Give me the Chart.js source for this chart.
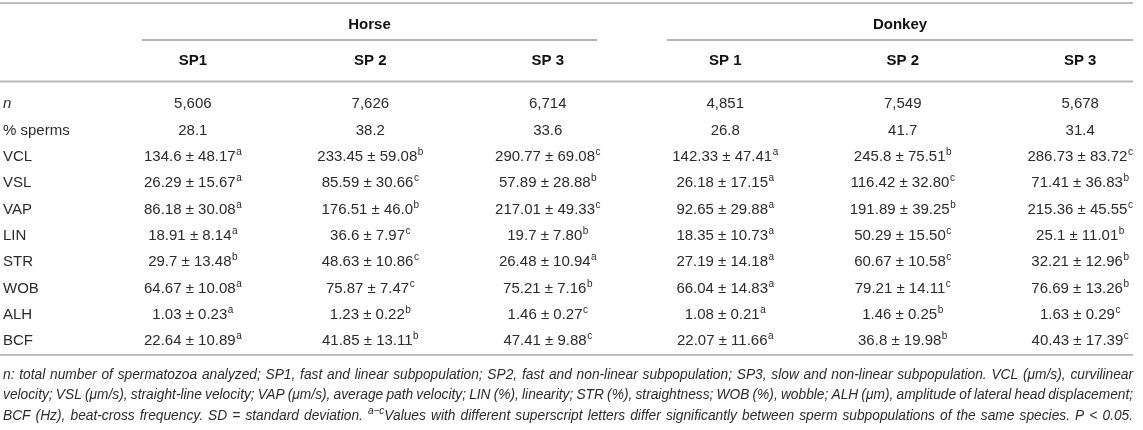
<!DOCTYPE html>
<html>
<head>
<meta charset="utf-8">
<script src="https://cdn.jsdelivr.net/npm/chart.js@4.4.1/dist/chart.umd.min.js"></script>
<style>
  html, body { margin: 0; padding: 0; background: #fff; }
  #wrap { width: 1143px; height: 430px; position: relative; }
</style>
</head>
<body>
<div id="wrap"><canvas id="tabela"></canvas></div>
<script>
// dados da tabela
const species = ["Horse", "Donkey"];
const subpops = ["SP1", "SP 2", "SP 3", "SP 1", "SP 2", "SP 3"];
const rowLabels = ["n", "% sperms", "VCL", "VSL", "VAP", "LIN", "STR", "WOB", "ALH", "BCF"];
const nCounts = ["5,606", "7,626", "6,714", "4,851", "7,549", "5,678"];
const pctSperms = ["28.1", "38.2", "33.6", "26.8", "41.7", "31.4"];

const vclMean = ["134.6", "233.45", "290.77", "142.33", "245.8", "286.73"];
const vclSd = ["48.17", "59.08", "69.08", "47.41", "75.51", "83.72"];
const vclSig = ["a", "b", "c", "a", "b", "c"];
const vslMean = ["26.29", "85.59", "57.89", "26.18", "116.42", "71.41"];
const vslSd = ["15.67", "30.66", "28.88", "17.15", "32.80", "36.83"];
const vslSig = ["a", "c", "b", "a", "c", "b"];
const vapMean = ["86.18", "176.51", "217.01", "92.65", "191.89", "215.36"];
const vapSd = ["30.08", "46.0", "49.33", "29.88", "39.25", "45.55"];
const vapSig = ["a", "b", "c", "a", "b", "c"];
const linMean = ["18.91", "36.6", "19.7", "18.35", "50.29", "25.1"];
const linSd = ["8.14", "7.97", "7.80", "10.73", "15.50", "11.01"];
const linSig = ["a", "c", "b", "a", "c", "b"];
const strMean = ["29.7", "48.63", "26.48", "27.19", "60.67", "32.21"];
const strSd = ["13.48", "10.86", "10.94", "14.18", "10.58", "12.96"];
const strSig = ["b", "c", "a", "a", "c", "b"];
const wobMean = ["64.67", "75.87", "75.21", "66.04", "79.21", "76.69"];
const wobSd = ["10.08", "7.47", "7.16", "14.83", "14.11", "13.26"];
const wobSig = ["a", "c", "b", "a", "c", "b"];
const alhMean = ["1.03", "1.23", "1.46", "1.08", "1.46", "1.63"];
const alhSd = ["0.23", "0.22", "0.27", "0.21", "0.25", "0.29"];
const alhSig = ["a", "b", "c", "a", "b", "c"];
const bcfMean = ["22.64", "41.85", "47.41", "22.07", "36.8", "40.43"];
const bcfSd = ["10.89", "13.11", "9.88", "11.66", "19.98", "17.39"];
const bcfSig = ["a", "b", "c", "a", "b", "c"];

const footnoteLines = [
  "n: total number of spermatozoa analyzed; SP1, fast and linear subpopulation; SP2, fast and non-linear subpopulation; SP3, slow and non-linear subpopulation. VCL (\u03bcm/s), curvilinear",
  "velocity; VSL (\u03bcm/s), straight-line velocity; VAP (\u03bcm/s), average path velocity; LIN (%), linearity; STR (%), straightness; WOB (%), wobble; ALH (\u03bcm), amplitude of lateral head displacement;",
  "BCF (Hz), beat-cross frequency. SD = standard deviation. ^a\u2212c^Values with different superscript letters differ significantly between sperm subpopulations of the same species. P < 0.05."
];

const stats = {
  VCL: [vclMean, vclSd, vclSig],
  VSL: [vslMean, vslSd, vslSig],
  VAP: [vapMean, vapSd, vapSig],
  LIN: [linMean, linSd, linSig],
  STR: [strMean, strSd, strSig],
  WOB: [wobMean, wobSd, wobSig],
  ALH: [alhMean, alhSd, alhSig],
  BCF: [bcfMean, bcfSd, bcfSig]
};

const FONTE = '"Liberation Sans", Arial, sans-serif';
const COR_TEXTO = "#2b2b2b";
const COR_LINHA = "#b5b5b5";

// posicoes verticais (em unidades de linha da tabela)
const Y_TOPO = -3.80, Y_ESPECIE = -3.04, Y_LINHA_GRUPO = -2.395, Y_SUBPOP = -1.635, Y_LINHA_CAB = -0.817;
const Y_FIM = 9.58, Y_NOTA = [10.30, 11.08, 11.86];
const X_DIREITA = 6.298;

function celula(col, row) {
  if (row === 0) return { base: nCounts[col], sup: "" };
  if (row === 1) return { base: pctSperms[col], sup: "" };
  const [m, s, g] = stats[rowLabels[row]];
  return { base: `${m[col]} \u00b1 ${s[col]}`, sup: g[col] };
}

function linha(ctx, x1, x2, y) {
  ctx.save();
  ctx.strokeStyle = COR_LINHA;
  ctx.lineWidth = 1.8;
  ctx.beginPath();
  ctx.moveTo(x1, y);
  ctx.lineTo(x2, y);
  ctx.stroke();
  ctx.restore();
}

const tabelaPlugin = {
  id: "tabela",
  afterDatasetsDraw(chart) {
    const ctx = chart.ctx;
    const xs = chart.scales.x, ys = chart.scales.y;
    const esquerda = xs.getPixelForValue(xs.min) + 3;
    const direita = xs.getPixelForValue(X_DIREITA);
    ctx.save();
    ctx.textBaseline = "alphabetic";

    // linhas horizontais
    linha(ctx, 0, direita, ys.getPixelForValue(Y_TOPO));
    linha(ctx, 0, direita, ys.getPixelForValue(Y_LINHA_CAB));
    linha(ctx, 0, direita, ys.getPixelForValue(Y_FIM));
    species.forEach((sp, g) => {
      const x1 = xs.getPixelForValue(g * 3 + 1 - (g ? 0.328 : 0.287));
      const x2 = xs.getPixelForValue(g * 3 + 3 + (g ? 0.298 : 0.278));
      linha(ctx, x1, x2, ys.getPixelForValue(Y_LINHA_GRUPO));
      ctx.font = `bold 15px ${FONTE}`;
      ctx.fillStyle = "#111";
      ctx.textAlign = "center";
      ctx.fillText(sp, (x1 + x2) / 2, ys.getPixelForValue(Y_ESPECIE) + 5.5);
    });

    // subpopulacoes
    subpops.forEach((s, i) => {
      ctx.font = `bold 15px ${FONTE}`;
      ctx.fillStyle = "#111";
      ctx.textAlign = "center";
      ctx.fillText(s, xs.getPixelForValue(i + 1), ys.getPixelForValue(Y_SUBPOP) + 5.5);
    });

    // rotulos das linhas
    rowLabels.forEach((r, i) => {
      ctx.font = (i === 0 ? "italic " : "") + `15px ${FONTE}`;
      ctx.fillStyle = COR_TEXTO;
      ctx.textAlign = "left";
      ctx.fillText(r, esquerda, ys.getPixelForValue(i) + 5.5);
    });

    // celulas a partir dos pontos do grafico
    chart.data.datasets.forEach((ds, col) => {
      const meta = chart.getDatasetMeta(col);
      meta.data.forEach((el, row) => {
        const c = celula(col, row);
        ctx.font = `15px ${FONTE}`;
        const wb = ctx.measureText(c.base).width;
        ctx.font = `10px ${FONTE}`;
        const wsup = c.sup ? ctx.measureText(c.sup).width + 0.5 : 0;
        const x0 = el.x - (wb + wsup) / 2;
        ctx.textAlign = "left";
        ctx.fillStyle = COR_TEXTO;
        ctx.font = `15px ${FONTE}`;
        ctx.fillText(c.base, x0, el.y + 5.5);
        if (c.sup) {
          ctx.font = `10px ${FONTE}`;
          ctx.fillText(c.sup, x0 + wb + 0.5, el.y - 0.5);
        }
      });
    });

    // notas de rodape (justificadas)
    const tamNota = 13.75;
    footnoteLines.forEach((txt, i) => {
      const y = ys.getPixelForValue(Y_NOTA[i]) + 5;
      const palavras = txt.split(" ").map(p => {
        const partes = p.split("^");
        return partes.map((t, k) => ({ t, sup: k === 1 }));
      });
      const larg = palavras.map(ps => ps.reduce((a, s) => {
        ctx.font = `italic ${s.sup ? 10 : tamNota}px ${FONTE}`;
        return a + ctx.measureText(s.t).width;
      }, 0));
      const soma = larg.reduce((a, b) => a + b, 0);
      const total = direita - esquerda;
      let gap = (total - soma) / (palavras.length - 1);
      gap = Math.max(2.2, Math.min(gap, tamNota * 0.5));
      let x = esquerda;
      ctx.fillStyle = COR_TEXTO;
      ctx.textAlign = "left";
      palavras.forEach((ps, k) => {
        ps.forEach(s => {
          if (!s.t) return;
          ctx.font = `italic ${s.sup ? 10 : tamNota}px ${FONTE}`;
          ctx.fillText(s.t, x, s.sup ? y - 6 : y);
          x += ctx.measureText(s.t).width;
        });
        x += gap;
      });
    });
    ctx.restore();
  }
};

const datasets = subpops.map((s, col) => ({
  label: s,
  data: rowLabels.map((r, row) => ({ x: col + 1, y: row })),
  pointRadius: 0,
  pointHoverRadius: 0,
  showLine: false
}));

new Chart(document.getElementById("tabela"), {
  type: "scatter",
  data: { datasets },
  options: {
    responsive: true,
    maintainAspectRatio: false,
    animation: false,
    layout: { padding: 0 },
    events: [],
    scales: {
      x: { type: "linear", display: false, min: -0.0867, max: 6.354 },
      y: { type: "linear", display: false, reverse: true, min: -3.916, max: 12.434 }
    },
    plugins: {
      legend: { display: false },
      tooltip: { enabled: false }
    }
  },
  plugins: [tabelaPlugin]
});
</script>
</body>
</html>
